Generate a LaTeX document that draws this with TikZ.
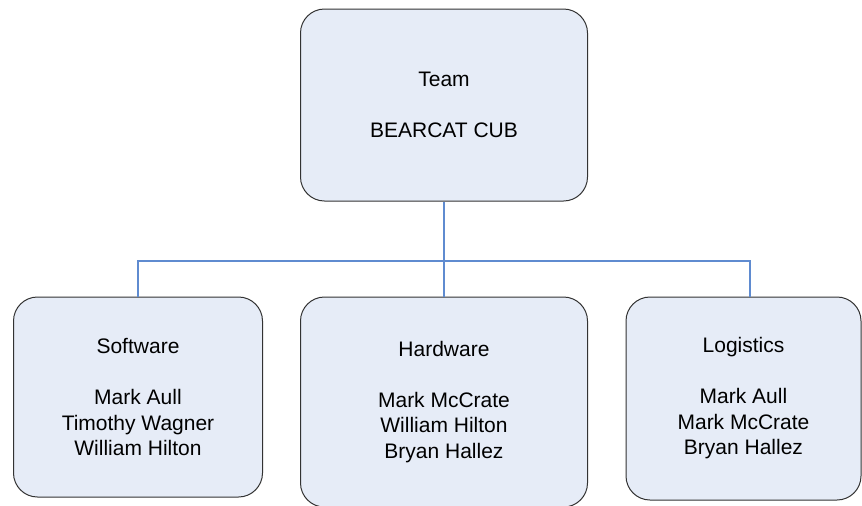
\documentclass[tikz,border=0pt]{standalone}
\usepackage{fontspec}
\setmainfont{Liberation Sans}
\definecolor{boxfill}{HTML}{E6ECF7}
\definecolor{linkblue}{HTML}{5F8BD0}
\begin{document}
\begin{tikzpicture}[
   x=0.5pt,y=-0.5pt,
   unit/.style={draw=black!80,fill=boxfill,rounded corners=12pt,line width=0.5pt,
      align=center,inner sep=0pt,font=\fontsize{10.5}{12.75}\selectfont},
   link/.style={draw=linkblue,line width=0.7pt}]
\useasboundingbox (0,0) rectangle (862,505);
\node[unit,minimum width=143.5pt,minimum height=96pt] (team) at (444,105) {Team\\[12.75pt]BEARCAT CUB};
\node[unit,minimum width=124.5pt,minimum height=100pt] (software) at (138,397)
   {Software\\[12.75pt]Mark Aull\\Timothy Wagner\\William Hilton};
\node[unit,minimum width=143.5pt,minimum height=105pt] (hardware) at (444,402)
   {Hardware\\[12.75pt]Mark McCrate\\William Hilton\\Bryan Hallez};
\node[unit,minimum width=117.5pt,minimum height=101.5pt] (logistics) at (743.5,398.5)
   {Logistics\\[12.75pt]Mark Aull\\Mark McCrate\\Bryan Hallez};
\coordinate (busL) at (138,261);
\coordinate (busR) at (750,261);
\draw[link] (team.south) -- (hardware.north);
\draw[link] (software.north) -- (busL) -- (busR) -- (busR |- logistics.north);
\end{tikzpicture}
\end{document}
